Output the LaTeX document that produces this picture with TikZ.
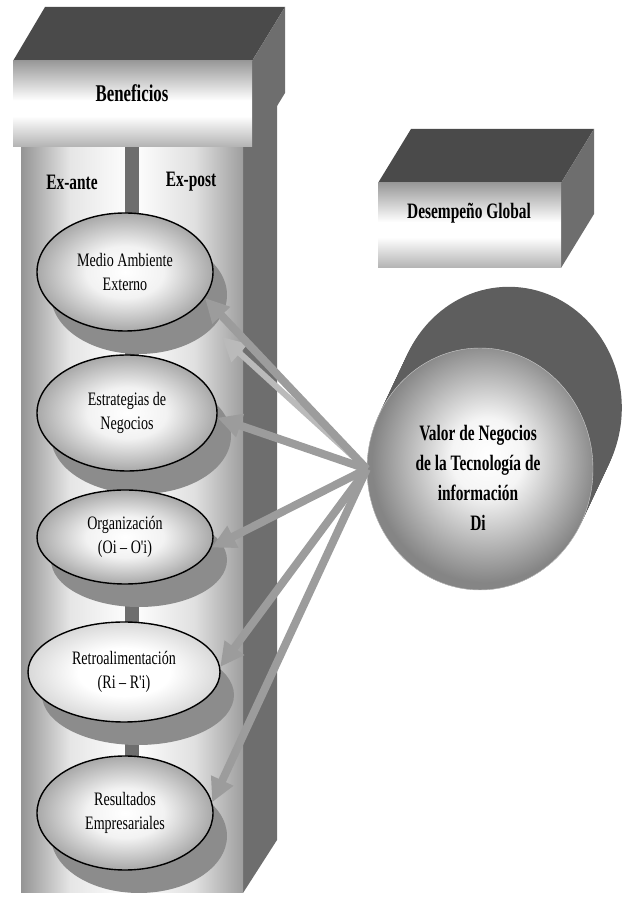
\documentclass[tikz,border=0pt]{standalone}
\usepackage{fontspec}
\setmainfont{Liberation Serif}
\newfontfamily\ovalfont[FakeStretch=0.74]{Liberation Serif}
\newfontfamily\boxfont[FakeStretch=0.7]{Liberation Serif}
\usetikzlibrary{shapes.geometric,arrows.meta,shadows,positioning}

\definecolor{topgray}{HTML}{4A4A4A}
\definecolor{sidegray}{HTML}{6E6E6E}
\definecolor{bodygray}{HTML}{5E5E5E}
\definecolor{shadowgray}{HTML}{8C8C8C}
\definecolor{linkgray}{HTML}{9C9C9C}
\definecolor{linklight}{HTML}{BABABA}

\pgfdeclareverticalshading{boxface}{100bp}{color(0bp)=(black!30); color(25bp)=(black!30); color(43bp)=(white); color(52bp)=(white); color(75bp)=(black!40); color(100bp)=(black!40)}
\pgfdeclarehorizontalshading{pillar}{100bp}{color(0bp)=(black!42); color(25bp)=(black!42); color(36bp)=(black!10); color(50bp)=(white); color(64bp)=(black!12); color(75bp)=(black!38); color(100bp)=(black!38)}
\pgfdeclareradialshading{ovalshade}{\pgfpoint{0bp}{0bp}}{color(0bp)=(white); color(11bp)=(black!5); color(25bp)=(black!34); color(50bp)=(black!34)}
\pgfdeclareradialshading{retroshade}{\pgfpoint{0bp}{0bp}}{color(0bp)=(white); color(12bp)=(white); color(25bp)=(black!15); color(50bp)=(black!15)}
\pgfdeclareradialshading{valorshade}{\pgfpoint{2bp}{3bp}}{color(0bp)=(white); color(8bp)=(black!4); color(25bp)=(black!48); color(50bp)=(black!48)}

\begin{document}
\begin{tikzpicture}[x=1pt, y=1pt,
    oval/.style={ellipse, draw=black, line width=1.4pt, inner sep=0pt, shading=ovalshade,
        drop shadow={shadow xshift=14pt, shadow yshift=-23pt, fill=shadowgray, opacity=1},
        font=\ovalfont\fontsize{19}{24}\selectfont, align=center},
    boxtitle/.style={font=\boxfont\bfseries\fontsize{22}{30}\selectfont, align=center},
    feed/.style={draw=linkgray, line width=8pt, -{Triangle[length=24pt, width=23pt]}}]
    \useasboundingbox (0,0) rectangle (624,897);

    % Column
    \fill[sidegray] (243,4) -- (277,57) -- (277,800) -- (243,800) -- cycle;
    \shade[shading=pillar] (21,4) rectangle (243,750);
    \fill[sidegray] (125,100) rectangle (139,750);

    % Beneficios block
    \fill[topgray] (13,836) -- (45,890) -- (285,890) -- (252,836) -- cycle;
    \fill[sidegray] (252,836) -- (285,890) -- (285,804) -- (252,750) -- cycle;
    \shade[shading=boxface] (13,750) rectangle (252,836);
    \node (benef) [boxtitle, font=\boxfont\bfseries\fontsize{24}{30}\selectfont] at (132,804) {Beneficios};
    \node (exante) [boxtitle] at (72,715) {Ex-ante};
    \node (expost) [boxtitle] at (191,715) {Ex-post};

    % Oval Nodes
    \node (medio) [oval, minimum width=176pt, minimum height=118pt] at (125,625) {Medio Ambiente\\Externo};
    \node (estrategias) [oval, minimum width=180pt, minimum height=116pt] at (127,484) {Estrategias de\\Negocios};
    \node (organizacion) [oval, minimum width=176pt, minimum height=94pt] at (125,360) {Organización\\(Oi – O'i)};
    \node (retro) [oval, minimum width=192pt, minimum height=100pt, shading=retroshade] at (124,225) {Retroalimentación\\(Ri – R'i)};
    \node (resultados) [oval, minimum width=176pt, minimum height=114pt] at (125,84) {Resultados\\Empresariales};

    % Desempeno Global block
    \fill[topgray] (378,714) -- (411,768) -- (594,768) -- (561,714) -- cycle;
    \fill[sidegray] (561,714) -- (594,768) -- (594,683) -- (561,629) -- cycle;
    \shade[shading=boxface] (378,629) rectangle (561,714);
    \node (desemp) [boxtitle] at (469,684) {Desempeño Global};

    % Valor de Negocios
    \foreach \k in {0,...,24}
        \fill[bodygray] (480+\k*1.2, 428+\k*2.55) ellipse [x radius=113pt, y radius=121pt];
    \node (valor) [ellipse, minimum width=226pt, minimum height=242pt, inner sep=0pt,
        shading=valorshade, draw=black!20] at (480,428) {};
    \node (valortxt) [boxtitle] at (478,419) {Valor de Negocios\\de la Tecnología de\\información\\Di};

    % Arrows
    \coordinate (medioback) at (222,560);
    \draw[feed, draw=linklight, line width=6pt] (valor.west) -- (medioback);
    \draw[feed] (valor.west) -- (medio.-18);
    \draw[feed] (valor.west) -- (estrategias.-3);
    \draw[feed] (valor.west) -- (organizacion.-7);
    \draw[feed] (valor.west) -- (retro.3);
    \draw[feed] (valor.west) -- (resultados.7);
\end{tikzpicture}
\end{document}
